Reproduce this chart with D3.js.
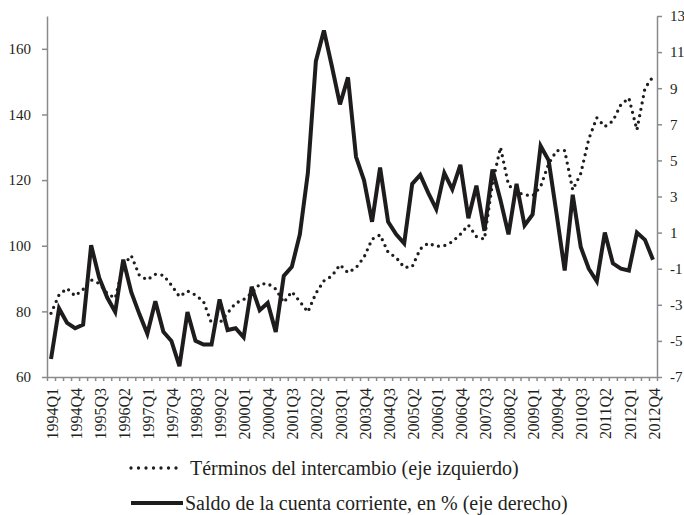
<!DOCTYPE html>
<html>
<head>
<meta charset="utf-8">
<script src="https://cdn.jsdelivr.net/npm/d3@7"></script>
<style>
  body { margin: 0; background: #fff; }
  svg { display: block; font-family: "Liberation Serif", "Times New Roman", serif; }
  .axis path, .axis line { stroke: #8a8a8c; stroke-width: 1.5px; }
  .axis text { fill: #231f20; font-size: 15px; font-family: "Liberation Serif", serif; }
  .axis text.xlab { font-size: 16px; }
</style>
</head>
<body>
<div id="chart"></div>
<script>
const years = d3.range(1994, 2013)
const quarters = years.flatMap(y => [1, 2, 3, 4].map(q => y + 'Q' + q))

// terminos del intercambio (eje izquierdo)
const terminos = [
  79.4, 85, 87, 84.7, 86.7, 89.6, 88.5, 85.5, 84, 94,
  97, 91, 89.6, 91.3, 91, 88, 84.5, 86.2, 85, 83,
  76.4, 76.4, 79.5, 82.5, 83.6, 85.5, 88.3, 88.5, 86.8, 82.7,
  86, 83, 79.8, 85.5, 89.3, 90.8, 94.2, 91.8, 93.3, 96.5,
  102, 103.3, 98, 96.4, 93.4, 93.6, 99, 100.8, 99.8, 100,
  101.2, 103.5, 106.3, 102.8, 102, 119, 130, 118.5, 116.3, 115.5,
  115.2, 118, 125, 129, 129, 117, 122, 132.5, 139, 136.3,
  138, 143, 145, 135.3, 148, 151.5
]

// saldo de la cuenta corriente, % (eje derecho)
const saldo = [
  -6.0, -3.2, -4.0, -4.3, -4.1, 0.3, -1.5, -2.6, -3.4, -0.5,
  -2.3, -3.5, -4.6, -2.8, -4.5, -5.0, -6.4, -3.4, -5.0, -5.2,
  -5.2, -2.7, -4.4, -4.3, -4.8, -2.0, -3.3, -2.9, -4.5, -1.4,
  -0.9, 0.9, 4.3, 10.5, 12.2, 10.2, 8.1, 9.6, 5.2, 3.9,
  1.6, 4.6, 1.6, 0.9, 0.4, 3.7, 4.2, 3.2, 2.3, 4.3,
  3.4, 4.75, 1.8, 3.6, 1.1, 4.5, 2.8, 0.9, 3.7, 1.4,
  2.0, 5.8, 5.0, 2.0, -1.1, 3.1, 0.2, -1.0, -1.7, 1.0,
  -0.7, -1.0, -1.1, 1.0, 0.6, -0.5
]

const leftTicks = [60, 80, 100, 120, 140, 160]
const rightTicks = [-7, -5, -3, -1, 1, 3, 5, 7, 9, 11, 13]
const xLabels = quarters.filter((d, i) => i % 3 === 0)

const legendItems = [
  {label: 'Términos del intercambio (eje izquierdo)', dotted: true},
  {label: 'Saldo de la cuenta corriente, en % (eje derecho)', dotted: false}
]

const W = 684, H = 515
const x0 = 47, x1 = 657, yTop = 16, yBot = 377

const svg = d3.select('#chart').append('svg')
  .attr('width', W)
  .attr('height', H)

const x = d3.scaleBand().domain(quarters).range([x0, x1])
const xEdge = d3.scaleLinear().domain([0, quarters.length]).range([x0, x1])
const yL = d3.scaleLinear().domain([60, 170]).range([yBot, yTop])
const yR = d3.scaleLinear().domain([-7, 13]).range([yBot, yTop])
const cx = d => x(d) + x.bandwidth() / 2

// axes
svg.append('g')
  .attr('class', 'axis')
  .attr('transform', `translate(${x0},0)`)
  .call(d3.axisLeft(yL).tickValues(leftTicks).tickSize(5).tickSizeOuter(0).tickPadding(11))

svg.append('g')
  .attr('class', 'axis')
  .attr('transform', `translate(${x1},0)`)
  .call(d3.axisRight(yR).tickValues(rightTicks).tickSize(5).tickSizeOuter(0).tickPadding(8)
    .tickFormat(d => String(d)))

svg.append('g')
  .attr('class', 'axis')
  .attr('transform', `translate(0,${yBot})`)
  .call(d3.axisBottom(xEdge).tickValues(d3.range(quarters.length + 1)).tickSize(4).tickSizeOuter(0).tickFormat(''))

svg.append('g')
  .attr('class', 'axis')
  .selectAll('text')
  .data(xLabels)
  .join('text')
  .attr('class', 'xlab')
  .attr('transform', d => `translate(${cx(d) + 1},388) rotate(-90)`)
  .attr('dy', '0.35em')
  .attr('text-anchor', 'end')
  .text(d => d)

// lines
const lineL = d3.line().x((d, i) => cx(quarters[i])).y(d => yL(d))
const lineR = d3.line().x((d, i) => cx(quarters[i])).y(d => yR(d))

svg.append('path')
  .datum(saldo)
  .attr('d', lineR)
  .attr('fill', 'none')
  .attr('stroke', '#1e1c1d')
  .attr('stroke-width', 4)
  .attr('stroke-linejoin', 'miter')

svg.append('path')
  .datum(terminos)
  .attr('d', lineL)
  .attr('fill', 'none')
  .attr('stroke', '#1e1c1d')
  .attr('stroke-width', 3.3)
  .attr('stroke-linecap', 'round')
  .attr('stroke-dasharray', '0 6.5')

// legend
const legend = svg.append('g')
  .selectAll('g')
  .data(legendItems)
  .join('g')
  .attr('transform', (d, i) => `translate(0,${468 + i * 35})`)

legend.append('line')
  .attr('x1', 131)
  .attr('x2', d => d.dotted ? 180 : 183)
  .attr('stroke', '#1e1c1d')
  .attr('stroke-width', d => d.dotted ? 3.3 : 4)
  .attr('stroke-linecap', d => d.dotted ? 'round' : 'butt')
  .attr('stroke-dasharray', d => d.dotted ? '0 7.5' : null)

legend.append('text')
  .attr('x', d => d.dotted ? 190 : 185)
  .attr('dy', '0.35em')
  .attr('font-size', '20px')
  .attr('fill', '#231f20')
  .text(d => d.label)
</script>
</body>
</html>
